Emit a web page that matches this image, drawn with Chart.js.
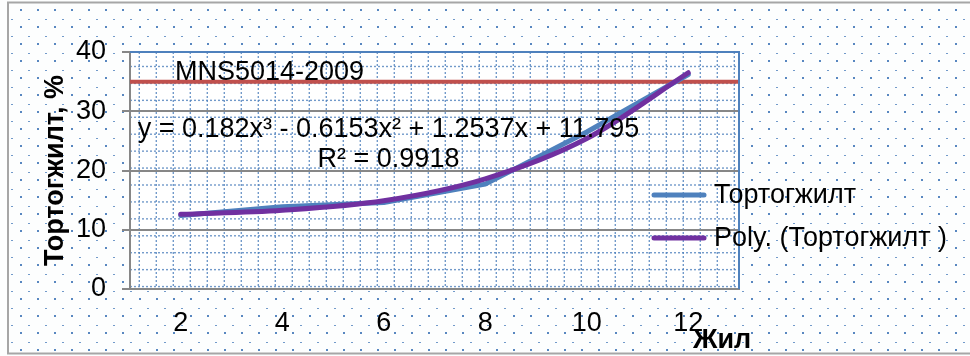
<!DOCTYPE html>
<html>
<head>
<meta charset="utf-8">
<script src="https://cdn.jsdelivr.net/npm/chart.js@4.4.1/dist/chart.umd.min.js"></script>
<style>
  html, body { margin: 0; padding: 0; background: #ffffff; overflow: hidden; }
  #wrap { position: relative; width: 970px; height: 356px; }
</style>
</head>
<body>
<div id="wrap"><canvas id="c" width="970" height="356"></canvas></div>
<script>
// Erosion (Тортогжилт, %) by year, with its cubic trend line
const years = ['2', '4', '6', '8', '10', '12'];
const erosionPct = [12.4, 13.9, 14.6, 17.7, 26.5, 36.2];
const polyFitPct = [12.6, 13.3, 14.9, 18.6, 25.4, 36.5];
const limitPct = 35;
const yTicks = [0, 10, 20, 30, 40];

const seriesName = 'Тортогжилт';
const trendName = 'Poly. (Тортогжилт )';
const limitName = 'MNS5014-2009';
const fitEquation = 'y = 0.182x³ - 0.6153x² + 1.2537x + 11.795';
const fitR2 = 'R² = 0.9918';
const yTitle = 'Тортогжилт, %';
const xTitle = 'Жил';

const FONT = "'Liberation Sans', Arial, sans-serif";
const FS = 27;
const BLUE = '#4F81BD';
const PURPLE = '#7030A0';
const RED = '#C0504D';
const AXIS = '#878787';
const DOT = 'rgba(79,129,189,0.95)';

Chart.defaults.font.family = FONT;
Chart.defaults.font.size = FS;
Chart.defaults.color = '#000000';

// Page background: framed, with a staggered dot pattern; plot area gets a dotted grid
const backdrop = {
  id: 'backdrop',
  beforeDraw(chart) {
    const ctx = chart.ctx;
    const a = chart.chartArea;
    ctx.save();
    ctx.fillStyle = '#fdfefe';
    ctx.fillRect(0, 0, chart.width, chart.height);
    ctx.fillStyle = DOT;
    for (let y = 10; y < 352; y += 17) {
      for (let x = 20.7; x < chart.width; x += 17) ctx.fillRect(Math.round(x - 1), Math.round(y - 1), 2, 2);
    }
    ctx.fillStyle = 'rgba(79,129,189,0.8)';
    for (let y = 18.5; y < 352; y += 17) {
      for (let x = 12.3; x < chart.width; x += 17) ctx.fillRect(Math.round(x - 1), Math.round(y), 2, 1);
    }
    ctx.strokeStyle = '#a6a6a6';
    ctx.lineWidth = 2;
    ctx.strokeRect(8, 2.5, 980, 351);

    ctx.fillStyle = '#ffffff';
    ctx.fillRect(a.left, a.top, a.right - a.left, a.bottom - a.top);
    ctx.beginPath();
    ctx.rect(a.left, a.top, a.right - a.left, a.bottom - a.top);
    ctx.clip();
    ctx.strokeStyle = 'rgba(79,129,189,0.8)';
    ctx.lineWidth = 1.4;
    ctx.setLineDash([2, 2]);
    for (let y = 185 - 16.93 * 8; y < a.bottom; y += 16.93) {
      if (y <= a.top) continue;
      ctx.beginPath(); ctx.moveTo(a.left, y); ctx.lineTo(a.right, y); ctx.stroke();
    }
    for (let x = 343.3 - 17 * 13; x < a.right; x += 17) {
      if (x <= a.left) continue;
      ctx.beginPath(); ctx.moveTo(x, a.top); ctx.lineTo(x, a.bottom); ctx.stroke();
    }
    ctx.restore();
  }
};

// Standard limit line across the whole plot width
const limitLine = {
  id: 'limitLine',
  beforeDatasetsDraw(chart) {
    const ctx = chart.ctx;
    const a = chart.chartArea;
    const y = chart.scales.y.getPixelForValue(limitPct);
    ctx.save();
    ctx.strokeStyle = RED;
    ctx.lineWidth = 4;
    ctx.beginPath(); ctx.moveTo(a.left, y); ctx.lineTo(a.right, y); ctx.stroke();
    ctx.restore();
  }
};

// Labels, plot frame, legend and x-axis title
const annotations = {
  id: 'annotations',
  afterDraw(chart) {
    const ctx = chart.ctx;
    const a = chart.chartArea;
    ctx.save();
    ctx.strokeStyle = BLUE;
    ctx.lineWidth = 2;
    ctx.beginPath(); ctx.moveTo(a.left, a.top); ctx.lineTo(a.right, a.top); ctx.lineTo(a.right, a.bottom); ctx.stroke();

    ctx.fillStyle = '#000000';
    ctx.font = FS + 'px ' + FONT;
    ctx.textBaseline = 'alphabetic';
    ctx.textAlign = 'left';
    ctx.fillText(limitName, 175, 80);
    ctx.textAlign = 'center';
    ctx.fillText(fitEquation, 388.5, 137);
    ctx.fillText(fitR2, 388.5, 167);

    // legend
    chart.data.datasets.forEach((ds, i) => {
      const y = 195 + i * 43;
      ctx.strokeStyle = ds.borderColor;
      ctx.lineWidth = ds.borderWidth;
      ctx.lineCap = 'round';
      ctx.beginPath(); ctx.moveTo(654, y); ctx.lineTo(704, y); ctx.stroke();
      ctx.textAlign = 'left';
      ctx.textBaseline = 'middle';
      ctx.fillText(ds.label, 714, y + 1);
    });

    ctx.font = 'bold ' + FS + 'px ' + FONT;
    ctx.textAlign = 'left';
    ctx.textBaseline = 'alphabetic';
    ctx.fillText(xTitle, 693, 348);
    ctx.restore();
  }
};

new Chart(document.getElementById('c'), {
  type: 'line',
  data: {
    labels: years,
    datasets: [
      {
        label: seriesName, data: erosionPct, borderColor: BLUE, backgroundColor: BLUE,
        borderWidth: 5, pointRadius: 0, tension: 0, order: 1,
        borderCapStyle: 'round', borderJoinStyle: 'round'
      },
      {
        label: trendName, data: polyFitPct, borderColor: PURPLE, backgroundColor: PURPLE,
        borderWidth: 5, pointRadius: 0, cubicInterpolationMode: 'monotone', order: 0,
        borderCapStyle: 'round', borderJoinStyle: 'round'
      }
    ]
  },
  options: {
    responsive: false,
    animation: false,
    devicePixelRatio: 1,
    layout: { padding: { left: 16, top: 52, right: 231, bottom: 0 } },
    plugins: { legend: { display: false }, tooltip: { enabled: false } },
    scales: {
      x: {
        offset: true,
        grid: { display: false, drawTicks: false },
        border: { display: true, color: AXIS, width: 2 },
        ticks: { padding: 18, color: '#000000', font: { size: FS } },
        afterFit: s => { s.height = 67; }
      },
      y: {
        min: 0, max: 40,
        afterBuildTicks: s => { s.ticks = yTicks.map(v => ({ value: v })); },
        grid: { color: AXIS, lineWidth: 2, tickLength: 8, drawTicks: true },
        border: { display: true, color: AXIS, width: 2 },
        ticks: { padding: 16, color: '#000000', font: { size: FS } },
        title: {
          display: true, text: yTitle, color: '#000000',
          font: { size: FS, weight: 'bold' }, padding: { top: 23.8, bottom: 0 }
        },
        afterFit: s => { s.width = 114; }
      }
    }
  },
  plugins: [backdrop, limitLine, annotations]
});
</script>
</body>
</html>
